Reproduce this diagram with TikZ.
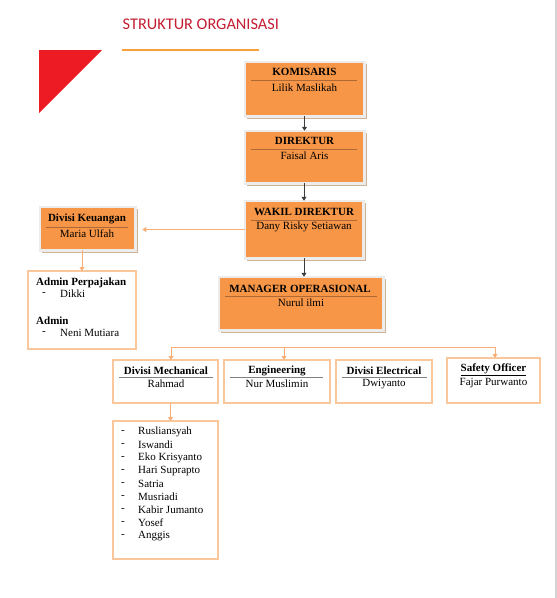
\documentclass[tikz,border=0pt]{standalone}
\usepackage{fontspec}
\setmainfont{Liberation Serif}
\newfontfamily\titlefont{Carlito}
\usetikzlibrary{arrows.meta,shadows}
\definecolor{orfill}{RGB}{247,150,70}
\definecolor{frgray}{RGB}{236,236,236}
\definecolor{shtan}{RGB}{205,178,150}
\definecolor{brline}{RGB}{175,105,55}
\definecolor{dkarrow}{RGB}{60,60,60}
\definecolor{lor}{RGB}{250,175,120}
\definecolor{wbord}{RGB}{250,198,155}
\definecolor{ttred}{RGB}{195,30,50}
\definecolor{trired}{RGB}{237,28,36}
\definecolor{tline}{RGB}{247,160,60}
\definecolor{edgegray}{RGB}{212,212,212}
\begin{document}
\begin{tikzpicture}[x=1pt,y=-1pt,
  obox/.style={draw=frgray,line width=2.5pt,fill=orfill,inner sep=0pt,outer sep=0pt,
    drop shadow={shadow xshift=2.5pt,shadow yshift=-2.5pt,fill=shtan,opacity=1}},
  wbox/.style={draw=wbord,line width=1.1pt,fill=white,inner sep=0pt,outer sep=0pt},
  ttl/.style={font=\fontsize{11}{13}\selectfont\bfseries,inner sep=0pt},
  nm/.style={font=\fontsize{11}{13}\selectfont,inner sep=0pt},
  lt/.style={font=\fontsize{11}{13}\selectfont,inner sep=0pt,anchor=west},
  ltb/.style={font=\fontsize{11}{13}\selectfont\bfseries,inner sep=0pt,anchor=west},
  oline/.style={draw=brline,line width=1pt},
  gline/.style={draw=gray,line width=0.8pt},
  darr/.style={draw=dkarrow,line width=1pt,-{Triangle[length=4pt,width=5pt]}},
  oarr/.style={draw=lor,line width=1pt,-{Triangle[length=4pt,width=5pt]}},
  oln/.style={draw=lor,line width=1pt}]
\useasboundingbox (0,0) rectangle (557,598);
\fill[white] (0,0) rectangle (557,598);
\draw[edgegray,line width=2pt] (555.5,0) -- (555.5,598);
% header
\node[font=\titlefont\fontsize{16.3}{18}\selectfont,text=ttred,anchor=west,inner sep=0pt] (title) at (122.5,24) {STRUKTUR ORGANISASI};
\draw[tline,line width=2pt] (122,50) -- (259,50);
\fill[trired] (39,50) -- (102,50) -- (39,113) -- cycle;
% orange boxes
\node[obox,minimum width=119.5pt,minimum height=54.5pt] (kom) at (304.5,89) {};
\node[obox,minimum width=119.5pt,minimum height=52.5pt] (dir) at (304.5,157) {};
\node[obox,minimum width=118.5pt,minimum height=57.5pt] (wak) at (304,229.5) {};
\node[obox,minimum width=164.5pt,minimum height=53.5pt] (man) at (301,303.5) {};
\node[obox,minimum width=95.5pt,minimum height=43.5pt] (keu) at (87.5,228.5) {};
\node[ttl] (komt) at (304.5,72) {KOMISARIS};
\draw[oline] (251,80) -- (357,80);
\node[nm] (komn) at (304.5,88) {Lilik Maslikah};
\node[ttl] (dirt) at (304.5,141) {DIREKTUR};
\draw[oline] (251,149) -- (357,149);
\node[nm] (dirn) at (304.5,156) {Faisal Aris};
\node[ttl] (wakt) at (304,212) {WAKIL DIREKTUR};
\draw[oline] (251,220) -- (357,220);
\node[nm] (wakn) at (304,227) {Dany Risky Setiawan};
\node[ttl] (mant) at (300,289) {MANAGER OPERASIONAL};
\draw[oline] (225,296) -- (377,296);
\node[nm] (mann) at (301,303) {Nurul ilmi};
\node[ttl] (keut) at (87,219) {Divisi Keuangan};
\draw[oline] (46,227) -- (128,227);
\node[nm] (keun) at (87,234) {Maria Ulfah};
% white boxes
\node[wbox,minimum width=108pt,minimum height=78pt] (adm) at (82,310) {};
\node[wbox,minimum width=105pt,minimum height=43pt] (mech) at (165.5,381.5) {};
\node[wbox,minimum width=106pt,minimum height=43pt] (eng) at (277,381.5) {};
\node[wbox,minimum width=96pt,minimum height=43pt] (elec) at (384,381.5) {};
\node[wbox,minimum width=93pt,minimum height=45pt] (saf) at (493.5,380.5) {};
\node[wbox,minimum width=105pt,minimum height=138pt] (lst) at (165.5,490) {};
% admin text
\node[ltb] (a1) at (36,283) {Admin Perpajakan};
\node[lt] (a2) at (42,294) {-};
\node[lt] (a3) at (60,294) {Dikki};
\node[ltb] (a4) at (36,321) {Admin};
\node[lt] (a5) at (42,333) {-};
\node[lt] (a6) at (60,333) {Neni Mutiara};
% division texts
\node[ttl] (mecht) at (166,371) {Divisi Mechanical};
\draw[gline] (119,377) -- (213,377);
\node[nm] (mechn) at (166,384) {Rahmad};
\node[ttl] (engt) at (277,371) {Engineering};
\draw[gline] (230,377) -- (323,377);
\node[nm] (engn) at (277,384) {Nur Muslimin};
\node[ttl] (elect) at (384,371) {Divisi Electrical};
\draw[gline] (342,377) -- (427,377);
\node[nm] (elecn) at (384,384) {Dwiyanto};
\node[ttl] (saft) at (493.5,370) {\underline{Safety Officer}};
\node[nm] (safn) at (493.5,383) {Fajar Purwanto};
% list
\foreach \nme [count=\i from 0] in {Rusliansyah,Iswandi,Eko Krisyanto,Hari Suprapto,Satria,Musriadi,Kabir Jumanto,Yosef,Anggis}{
  \node[lt] (ld\i) at (121,432+13*\i) {-};
  \node[lt] (ln\i) at (138,432+13*\i) {\nme};
}
% connectors
\draw[darr] (kom.south) -- (dir.north);
\draw[darr] (dir.south) -- (wak.south |- dir.south) -- (wak.north);
\draw[darr] (wak.south) -- (wak.south |- man.north);
\coordinate (kin) at ([xshift=7pt]keu.east |- wak.west);
\draw[oarr] (wak.west) -- (kin);
\draw[oarr] (adm.north |- keu.south) -- (adm.north);
\coordinate (b1) at (171,347);
\coordinate (b2) at (284,347);
\coordinate (b3) at (495,347);
\draw[oln] (b1) -- (b3);
\draw[oarr] (b1) -- (b1 |- mech.north);
\draw[oarr] (b2) -- (b2 |- eng.north);
\draw[oarr] (b3) -- (b3 |- saf.north);
\draw[oarr] ([xshift=5pt]mech.south) -- ([xshift=5pt]lst.north);
\end{tikzpicture}
\end{document}
